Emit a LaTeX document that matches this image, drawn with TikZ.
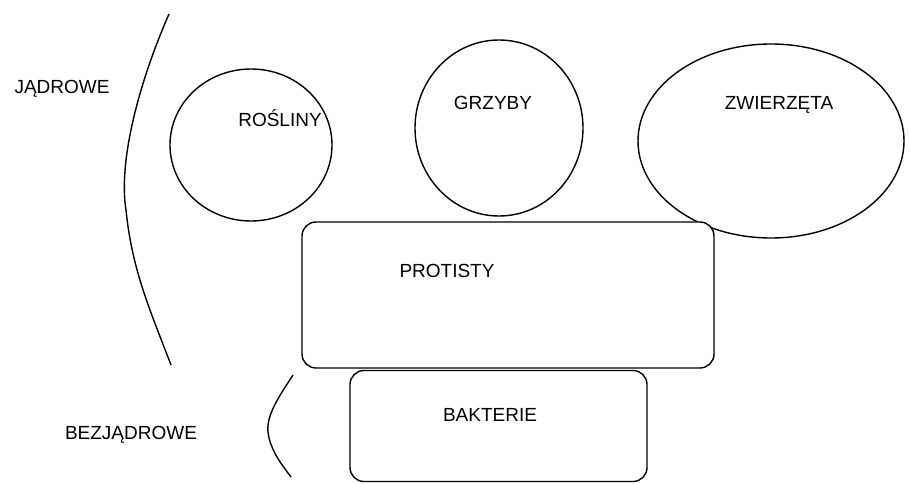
\documentclass[tikz,border=0pt]{standalone}
\usepackage{fontspec}
\setmainfont{Liberation Sans}
\usetikzlibrary{shapes.geometric}
\begin{document}
\begin{tikzpicture}[x=1pt,y=-1pt,
  line width=1.4pt,
  lbl/.style={font=\fontsize{19}{21}\selectfont, inner sep=0pt},
  oval/.style={draw, ellipse, inner sep=0pt},
  kingdom/.style={draw, rounded corners=14pt, inner sep=0pt}]
\useasboundingbox[fill=white] (0,0) rectangle (910,484);
% ellipses
\node[oval, minimum width=162pt, minimum height=152pt] (rosliny) at (251,145) {};
\node[oval, minimum width=168pt, minimum height=176pt] (grzyby) at (499,128) {};
\node[oval, minimum width=266pt, minimum height=194pt] (zwierzeta) at (771,141) {};
% rectangles
\node[kingdom, fill=white, minimum width=412pt, minimum height=146pt] (protisty) at (508,295) {};
\node[kingdom, minimum width=297pt, minimum height=111pt] (bakterie) at (498.5,426) {};
% labels
\node[lbl] (tR) at (280,118) {ROŚLINY};
\node[lbl] (tG) at (493,103) {GRZYBY};
\node[lbl] (tZ) at (779,105) {ZWIERZĘTA};
\node[lbl] (tP) at (447,271) {PROTISTY};
\node[lbl] (tB) at (490,415) {BAKTERIE};
\node[lbl] (tJ) at (62,89) {JĄDROWE};
\node[lbl] (tBJ) at (131,435) {BEZJĄDROWE};
% braces
\coordinate (c1) at (169,14);
\coordinate (c2) at (171,365);
\draw (c1) .. controls (140,80) and (118,160) .. (126,210) .. controls (132,270) and (150,310) .. (c2);
\coordinate (d1) at (293,375);
\coordinate (d2) at (291,477);
\draw (d1) .. controls (280,395) and (266,415) .. (268,432) .. controls (270,450) and (282,465) .. (d2);
\end{tikzpicture}
\end{document}
